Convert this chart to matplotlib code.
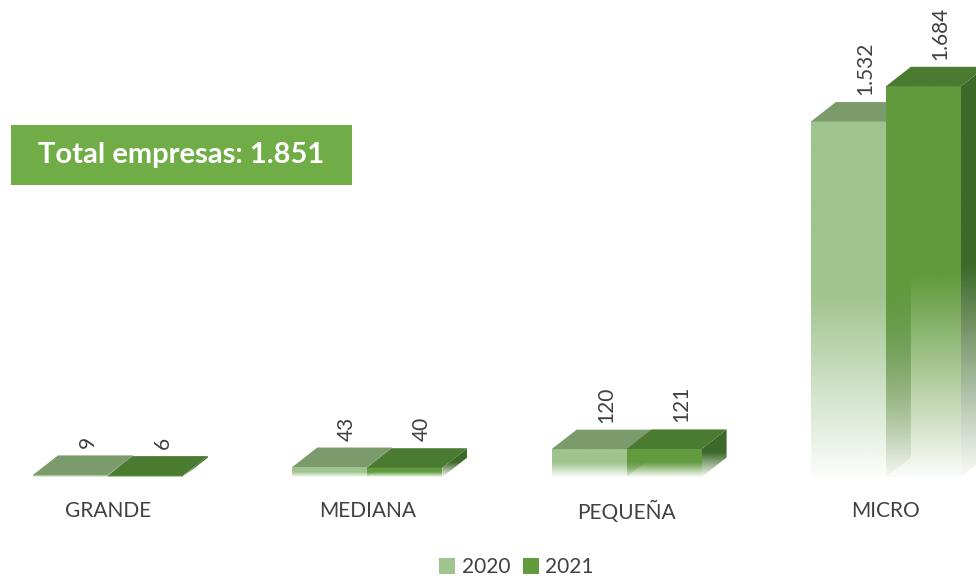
import numpy as np
import matplotlib
matplotlib.use("Agg")
import matplotlib.pyplot as plt
from matplotlib.patches import Polygon, Rectangle, Patch

plt.rcParams['font.family'] = ['Lato', 'DejaVu Sans']

categorias = ['GRANDE', 'MEDIANA', 'PEQUEÑA', 'MICRO']
anios = ['2020', '2021']
valores_2020 = [9, 43, 120, 1532]
valores_2021 = [6, 40, 121, 1684]
etiquetas_2020 = ['9', '43', '120', '1.532']
etiquetas_2021 = ['6', '40', '121', '1.684']
titulo = 'Total empresas: 1.851'

# colores: frente, arriba, lado
col_2020 = ('#A0C48F', '#7B9B6C', '#6A8A5C')
col_2021 = ('#629B3E', '#4B7A31', '#3D6A2A')

W, H = 976, 576
fig = plt.figure(figsize=(W / 100, H / 100), dpi=100)
ax = fig.add_axes([0, 99 / H, 1, 477 / H])
px_x = 1 / 259.3          # unidades x por pixel
px_y = 4.31               # unidades y por pixel

ancho = 75 * px_x
dx = 25 * px_x
dy = 19.5 * px_y


def fade(color, n=256):
    rgb = matplotlib.colors.to_rgb(color)
    t = np.linspace(0, 1, n)
    a = np.clip(0.03 + 1.9 * t, 0, 1)
    img = np.zeros((n, 1, 4))
    img[:, 0, :3] = rgb
    img[:, 0, 3] = a
    return img


def barra3d(x0, h, cols, z):
    x1 = x0 + ancho
    frente, arriba, lado = cols
    # lado
    poly = Polygon([(x1, 0), (x1 + dx, dy), (x1 + dx, h + dy), (x1, h)],
                   closed=True, facecolor='none', edgecolor='none')
    ax.add_patch(poly)
    im = ax.imshow(fade(lado), extent=[x1, x1 + dx, 0, h + dy], origin='lower',
                   aspect='auto', zorder=z, interpolation='bilinear')
    im.set_clip_path(poly)
    # frente
    ax.imshow(fade(frente), extent=[x0, x1, 0, h], origin='lower',
              aspect='auto', zorder=z + 1, interpolation='bilinear')
    # arriba
    ax.add_patch(Polygon([(x0, h), (x0 + dx, h + dy), (x1 + dx, h + dy), (x1, h)],
                         closed=True, facecolor=arriba, edgecolor='none', zorder=z + 2))


for i in range(len(categorias)):
    z = 10 + i * 10
    barra3d(i - ancho, valores_2020[i], col_2020, z)
    barra3d(i, valores_2021[i], col_2021, z + 4)
    for x0, v, lab in [(i - ancho, valores_2020[i], etiquetas_2020[i]),
                       (i, valores_2021[i], etiquetas_2021[i])]:
        ax.text(x0 + ancho / 2 + 17 * px_x, v + dy + 7 * px_y, lab, rotation=90,
                ha='center', va='bottom', fontsize=15, color='#404040', zorder=100)

ax.set_xlim(-108 * px_x, (W - 108) * px_x)
ax.set_ylim(0, 477 * px_y)
ax.set_xticks(range(len(categorias)))
ax.set_xticklabels(categorias, fontsize=15, color='#404040')
ax.tick_params(axis='x', length=0, pad=17)
ax.set_yticks([])
for s in ax.spines.values():
    s.set_visible(False)
ax.patch.set_alpha(0)

# cuadro total
fig.patches.append(Rectangle((11 / W, 1 - 185 / H), 341 / W, 60 / H,
                             transform=fig.transFigure, facecolor='#70AD47',
                             edgecolor='none'))
fig.text(181.5 / W, 1 - 155 / H, titulo, ha='center', va='center',
         fontsize=21, fontweight='bold', color='white')

handles = [Patch(facecolor=col_2020[0], label=anios[0]),
           Patch(facecolor=col_2021[0], label=anios[1])]
fig.legend(handles=handles, loc='lower center', bbox_to_anchor=(0.529, -0.035),
           ncol=2, frameon=False, fontsize=15, handlelength=0.8, handleheight=0.8,
           handletextpad=0.3, columnspacing=0.6, labelcolor='#404040')

fig.savefig('out.png', dpi=100)
